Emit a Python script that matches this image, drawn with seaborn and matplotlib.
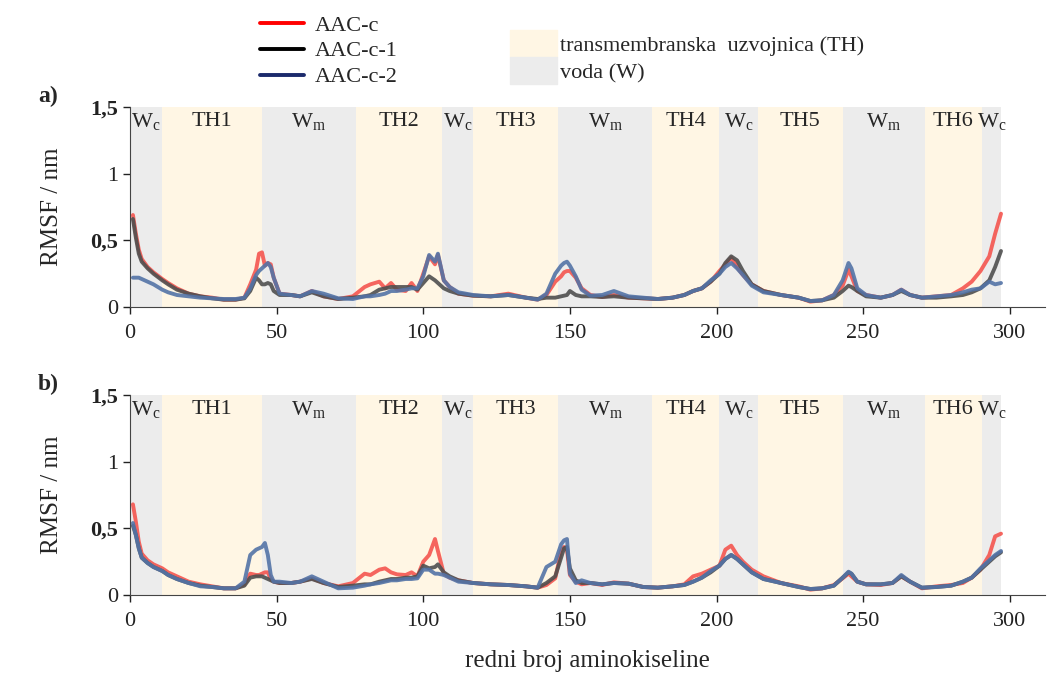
import seaborn as sns
import matplotlib.pyplot as plt
from matplotlib.patches import Patch
from matplotlib.lines import Line2D

sns.set_style("ticks")
plt.rcParams['font.family'] = ['Liberation Serif', 'DejaVu Serif']
plt.rcParams['mathtext.fontset'] = 'custom'
plt.rcParams['mathtext.rm'] = 'Liberation Serif'
plt.rcParams['mathtext.it'] = 'Liberation Serif'

# residue numbers (sampled)
res = [1, 2, 3, 4, 6, 8, 11, 13, 16, 20,
       24, 28, 32, 36, 39, 41, 43, 44, 45, 46,
       47, 48, 49, 51, 55, 58, 62, 66, 71, 76,
       80, 82, 85, 87, 89, 91, 94, 96, 98, 100,
       102, 104, 105, 107, 109, 112, 117, 123, 129, 135,
       139, 142, 145, 147, 148, 149, 150, 152, 154, 157,
       161, 165, 170, 175, 180, 185, 189, 192, 195, 198,
       201, 203, 205, 207, 209, 212, 216, 222, 228, 232,
       236, 240, 243, 245, 246, 248, 251, 256, 260, 263,
       266, 270, 275, 280, 284, 287, 290, 293, 295, 297]

# panel a)
a_c = [0.69, 0.55, 0.43, 0.36, 0.30, 0.26, 0.21, 0.18, 0.14, 0.10,
       0.08, 0.07, 0.055, 0.055, 0.07, 0.17, 0.28, 0.40, 0.41, 0.31,
       0.33, 0.32, 0.22, 0.10, 0.09, 0.08, 0.12, 0.08, 0.06, 0.08,
       0.15, 0.17, 0.19, 0.14, 0.18, 0.13, 0.12, 0.18, 0.12, 0.25,
       0.38, 0.32, 0.39, 0.20, 0.15, 0.10, 0.085, 0.08, 0.10, 0.07,
       0.055, 0.09, 0.19, 0.23, 0.26, 0.27, 0.27, 0.22, 0.14, 0.09,
       0.075, 0.09, 0.07, 0.065, 0.06, 0.07, 0.09, 0.12, 0.14, 0.19,
       0.27, 0.32, 0.37, 0.30, 0.24, 0.17, 0.12, 0.09, 0.07, 0.04,
       0.05, 0.09, 0.16, 0.28, 0.23, 0.12, 0.09, 0.07, 0.09, 0.13,
       0.09, 0.07, 0.08, 0.09, 0.14, 0.19, 0.27, 0.38, 0.55, 0.70]
a_c1 = [0.66, 0.52, 0.40, 0.34, 0.29, 0.25, 0.20, 0.17, 0.13, 0.10,
        0.08, 0.065, 0.055, 0.055, 0.065, 0.12, 0.22, 0.20, 0.17, 0.17,
        0.18, 0.17, 0.12, 0.09, 0.09, 0.08, 0.11, 0.08, 0.06, 0.07,
        0.08, 0.09, 0.13, 0.14, 0.15, 0.15, 0.15, 0.15, 0.13, 0.18,
        0.23, 0.20, 0.18, 0.14, 0.12, 0.10, 0.085, 0.08, 0.09, 0.07,
        0.06, 0.07, 0.07, 0.08, 0.085, 0.09, 0.12, 0.09, 0.08, 0.08,
        0.075, 0.08, 0.07, 0.065, 0.06, 0.07, 0.09, 0.12, 0.14, 0.19,
        0.25, 0.33, 0.38, 0.35, 0.27, 0.17, 0.12, 0.09, 0.07, 0.045,
        0.05, 0.07, 0.12, 0.16, 0.15, 0.12, 0.08, 0.07, 0.09, 0.12,
        0.09, 0.07, 0.07, 0.08, 0.09, 0.11, 0.14, 0.20, 0.30, 0.42]
a_c2 = [0.22, 0.22, 0.22, 0.21, 0.19, 0.17, 0.13, 0.11, 0.09, 0.08,
        0.07, 0.065, 0.06, 0.06, 0.07, 0.14, 0.24, 0.27, 0.29, 0.31,
        0.33, 0.30, 0.22, 0.10, 0.09, 0.08, 0.12, 0.10, 0.065, 0.06,
        0.08, 0.08, 0.09, 0.10, 0.12, 0.12, 0.13, 0.14, 0.14, 0.23,
        0.39, 0.34, 0.40, 0.20, 0.15, 0.11, 0.09, 0.08, 0.09, 0.07,
        0.055, 0.10, 0.25, 0.31, 0.33, 0.34, 0.31, 0.23, 0.13, 0.085,
        0.09, 0.12, 0.08, 0.07, 0.06, 0.07, 0.09, 0.12, 0.14, 0.20,
        0.25, 0.30, 0.33, 0.29, 0.24, 0.16, 0.11, 0.09, 0.07, 0.045,
        0.05, 0.09, 0.20, 0.33, 0.29, 0.14, 0.09, 0.07, 0.09, 0.13,
        0.09, 0.07, 0.08, 0.09, 0.11, 0.13, 0.14, 0.19, 0.17, 0.18]

# panel b)
b_c = [0.68, 0.55, 0.40, 0.31, 0.26, 0.23, 0.20, 0.17, 0.14, 0.10,
       0.08, 0.065, 0.05, 0.05, 0.08, 0.16, 0.15, 0.15, 0.16, 0.17,
       0.17, 0.12, 0.10, 0.09, 0.09, 0.10, 0.125, 0.09, 0.065, 0.09,
       0.16, 0.15, 0.19, 0.20, 0.17, 0.155, 0.15, 0.17, 0.14, 0.25,
       0.30, 0.42, 0.33, 0.16, 0.13, 0.11, 0.09, 0.08, 0.075, 0.065,
       0.055, 0.075, 0.125, 0.33, 0.36, 0.34, 0.15, 0.10, 0.08, 0.09,
       0.075, 0.095, 0.085, 0.06, 0.055, 0.065, 0.08, 0.14, 0.16, 0.19,
       0.22, 0.34, 0.37, 0.30, 0.25, 0.19, 0.14, 0.09, 0.065, 0.04,
       0.05, 0.075, 0.125, 0.16, 0.14, 0.10, 0.08, 0.075, 0.09, 0.14,
       0.10, 0.05, 0.065, 0.075, 0.09, 0.13, 0.19, 0.30, 0.44, 0.46]
b_c1 = [0.52, 0.45, 0.35, 0.28, 0.24, 0.21, 0.18, 0.15, 0.12, 0.09,
        0.07, 0.06, 0.05, 0.05, 0.07, 0.13, 0.14, 0.14, 0.14, 0.13,
        0.12, 0.11, 0.10, 0.09, 0.09, 0.10, 0.12, 0.09, 0.06, 0.07,
        0.08, 0.08, 0.10, 0.11, 0.12, 0.12, 0.13, 0.13, 0.14, 0.22,
        0.20, 0.21, 0.23, 0.17, 0.14, 0.11, 0.09, 0.08, 0.075, 0.065,
        0.055, 0.09, 0.14, 0.28, 0.35, 0.36, 0.20, 0.11, 0.09, 0.09,
        0.08, 0.09, 0.085, 0.06, 0.055, 0.065, 0.075, 0.10, 0.13, 0.17,
        0.22, 0.27, 0.30, 0.27, 0.23, 0.17, 0.12, 0.09, 0.06, 0.045,
        0.05, 0.07, 0.13, 0.17, 0.16, 0.10, 0.08, 0.08, 0.09, 0.14,
        0.10, 0.055, 0.06, 0.07, 0.10, 0.13, 0.19, 0.25, 0.29, 0.32]
b_c2 = [0.54, 0.45, 0.35, 0.28, 0.24, 0.21, 0.18, 0.15, 0.12, 0.09,
        0.065, 0.06, 0.05, 0.05, 0.10, 0.30, 0.34, 0.35, 0.36, 0.39,
        0.30, 0.15, 0.10, 0.10, 0.09, 0.10, 0.14, 0.10, 0.05, 0.055,
        0.07, 0.08, 0.09, 0.10, 0.11, 0.11, 0.12, 0.12, 0.125, 0.19,
        0.19, 0.16, 0.16, 0.15, 0.13, 0.10, 0.09, 0.08, 0.075, 0.065,
        0.055, 0.21, 0.25, 0.38, 0.41, 0.42, 0.16, 0.09, 0.11, 0.09,
        0.08, 0.09, 0.085, 0.06, 0.055, 0.065, 0.075, 0.10, 0.13, 0.18,
        0.22, 0.27, 0.30, 0.27, 0.23, 0.17, 0.12, 0.09, 0.06, 0.045,
        0.05, 0.07, 0.13, 0.175, 0.16, 0.10, 0.08, 0.08, 0.09, 0.15,
        0.10, 0.055, 0.06, 0.07, 0.10, 0.13, 0.20, 0.26, 0.30, 0.33]

# protein segments
seg_start = [0, 11, 45, 77, 106.5, 117, 146, 178, 201, 214, 243, 271, 290.5]
seg_end = [11, 45, 77, 106.5, 117, 146, 178, 201, 214, 243, 271, 290.5, 297]
seg_label = [r'W$_\mathrm{c}$', 'TH1', r'W$_\mathrm{m}$', 'TH2', r'W$_\mathrm{c}$', 'TH3',
             r'W$_\mathrm{m}$', 'TH4', r'W$_\mathrm{c}$', 'TH5', r'W$_\mathrm{m}$', 'TH6',
             r'W$_\mathrm{c}$']

th_col = '#fff6e4'
w_col = '#ececec'
series = [('AAC-c', '#ff0000', '#f4554f'),
          ('AAC-c-1', '#000000', '#4f4f4f'),
          ('AAC-c-2', '#1b2a6b', '#5373a6')]

fig = plt.figure(figsize=(10.48, 6.75), dpi=100)
ax_a = fig.add_axes([130 / 1048, 1 - 307 / 675, 915 / 1048, 200 / 675])
ax_b = fig.add_axes([130 / 1048, 1 - 595 / 675, 915 / 1048, 200 / 675])

for ax, data, tag in [(ax_a, [a_c, a_c1, a_c2], 'a)'), (ax_b, [b_c, b_c1, b_c2], 'b)')]:
    for s, e, lab in zip(seg_start, seg_end, seg_label):
        col = th_col if lab.startswith('TH') else w_col
        ax.axvspan(s, e, color=col, lw=0, zorder=0)
        ax.text((s + e) / 2, 1.39, lab, ha='center', va='center', fontsize=16, zorder=3)
    for (name, _, col), vals in zip(series, data):
        sns.lineplot(x=res, y=vals, color=col, lw=2.8, alpha=0.9, ax=ax, zorder=2)
    ax.set_xlim(0, 312)
    ax.set_ylim(0, 1.5)
    ax.set_xticks([0, 50, 100, 150, 200, 250, 300])
    ax.set_yticks([0, 0.5, 1, 1.5])
    ax.set_yticklabels(['0', '0,5', '1', '1,5'])
    ax.tick_params(labelsize=16, length=5, width=1, colors='#222222')
    ax.tick_params(axis='x', pad=7)
    for lbl in ax.get_yticklabels():
        if ',' in lbl.get_text():
            lbl.set_fontweight('bold')
    ax.set_ylabel('RMSF / nm', fontsize=18, labelpad=20)
    ax.set_facecolor('white')
    sns.despine(ax=ax)
    for sp in ['left', 'bottom']:
        ax.spines[sp].set_color('#444444')
    fig.text(38 / 1048, ax.get_position().y1 + 0.016, tag, fontsize=17,
             fontweight='bold', va='center')

ax_b.set_xlabel('redni broj aminokiseline', fontsize=18, labelpad=14)

line_handles = [Line2D([], [], color=c, lw=2.8) for _, c, _ in series]
fig.legend(line_handles, [s[0] for s in series], loc='upper left',
           bbox_to_anchor=(240 / 1048, 1 + 5 / 675), frameon=False, fontsize=16,
           handlelength=2.0, labelspacing=0.24, handletextpad=0.45)
fig.legend([Patch(color=th_col), Patch(color=w_col)],
           ['transmembranska  uzvojnica (TH)', 'voda (W)'], loc='upper left',
           bbox_to_anchor=(490 / 1048, 1 - 10 / 675), frameon=False, fontsize=16,
           handlelength=2.1, handleheight=1.5, labelspacing=0.0, handletextpad=0.15)

fig.savefig('out.png', dpi=100)
